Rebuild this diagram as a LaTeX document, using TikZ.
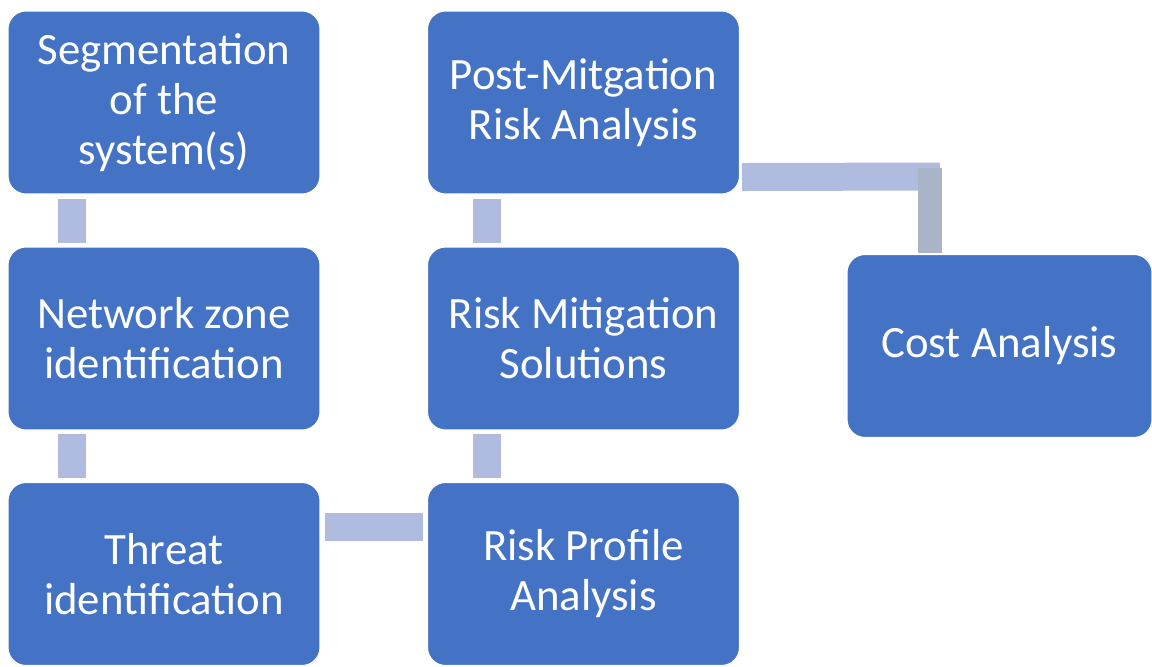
\documentclass[tikz,border=0pt]{standalone}
\usepackage{fontspec}
\setmainfont{Carlito}
\usepackage{xcolor}
\usetikzlibrary{positioning,calc}
\definecolor{boxblue}{HTML}{4472C4}
\definecolor{linkblue}{HTML}{AFBCDF}
\definecolor{linkgray}{HTML}{A9B5C7}

\begin{document}
\begin{tikzpicture}[
  x=0.02cm, y=-0.02cm,
  every node/.style={font=\fontsize{25.5}{28.5}\selectfont},
  stage/.style={draw=white, line width=0.6pt, rounded corners=0.36cm, fill=boxblue, text=white,
    minimum width=6.24cm, minimum height=3.66cm, align=center, inner sep=0pt},
  link/.style={draw=linkblue, line width=0.56cm},
  linkg/.style={draw=linkgray, line width=0.48cm}
]
\useasboundingbox (0,0) rectangle (1152,666);

\node[stage] (seg) at (164,102.5) {Segmentation\\of the\\system(s)};
\node[stage] (net) at (164,338.5) {Network zone\\identification};
\node[stage] (thr) at (164,574) {Threat\\identification};
\node[stage] (prof) at (583.5,574) {Risk Profile\\Analysis};
\node[stage] (mitig) at (583.5,338.5) {Risk Mitigation\\Solutions};
\node[stage] (post) at (583.5,102.5) {Post-Mitgation\\Risk Analysis};
\node[stage, minimum width=6.1cm] (cost) at (999.5,346) {Cost Analysis};

\coordinate (elbow) at (930,176.5);

\draw[link] ([shift={(64,4)}]seg.south west) -- ([shift={(64,-3)}]net.north west);
\draw[link] ([shift={(64,3)}]net.south west) -- ([shift={(64,-4)}]thr.north west);
\draw[link] ([shift={(4,45)}]thr.north east) -- ([shift={(-4,45)}]prof.north west);
\draw[link] ([shift={(60,-4)}]prof.north west) -- ([shift={(60,3)}]mitig.south west);
\draw[link] ([shift={(60,-3)}]mitig.north west) -- ([shift={(60,4)}]post.south west);
\draw[link] ([shift={(2,-17.5)}]post.south east) -- ([shift={(10,0)}]elbow);
\draw[linkg] ([shift={(0,-8.5)}]elbow) -- ([shift={(0,-1)}]elbow |- cost.north);
\end{tikzpicture}
\end{document}
